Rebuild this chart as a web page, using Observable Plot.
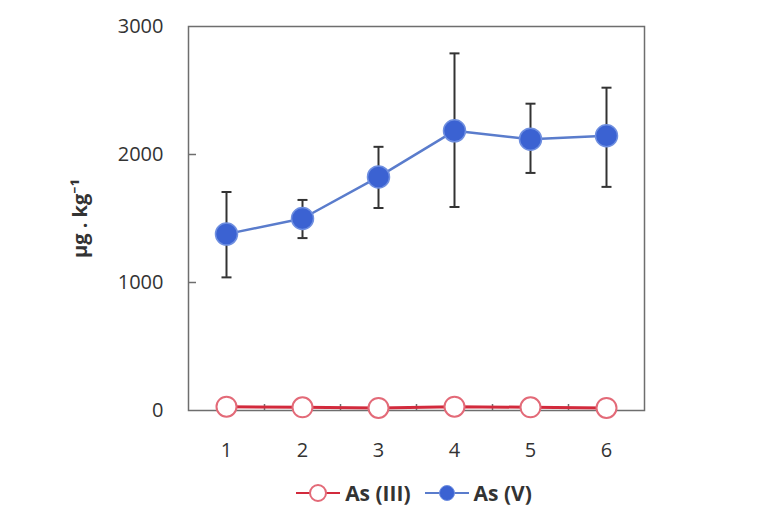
<!DOCTYPE html>
<html>
<head>
<meta charset="utf-8">
<script src="https://cdn.jsdelivr.net/npm/d3@7"></script>
<script src="https://cdn.jsdelivr.net/npm/@observablehq/plot@0.6"></script>
<style>
  body { margin: 0; background: #ffffff; font-family: "Open Sans", "Noto Sans", sans-serif; }
  #chart { width: 766px; }
  .legend { display: flex; justify-content: center; align-items: center; gap: 14px;
            padding-top: 9px; padding-left: 62px; font-weight: bold; font-size: 21px; color: #333; }
  .legend .item { display: flex; align-items: center; gap: 5px; }
</style>
</head>
<body>
<div id="chart"></div>
<script>
const samples = [1, 2, 3, 4, 5, 6];
const asV = [1378, 1500, 1825, 2185, 2120, 2146];
const asVLow = [1040, 1347, 1582, 1590, 1856, 1747];
const asVHigh = [1707, 1645, 2060, 2790, 2397, 2522];
const asIII = [30, 25, 20, 30, 25, 20];
const yTicks = [0, 1000, 2000, 3000];
const yInnerTicks = [1000, 2000];
const xInnerTicks = [1.5, 2.5, 3.5, 4.5, 5.5];
const yLabel = "μg . kg⁻¹";
const seriesNames = ["As (III)", "As (V)"];

const blueLine = "#5a7ccc";
const blueFill = "#3b62d2";
const redLine = "#d22a3c";
const redStroke = "#e36a78";

const vData = samples.map((s, i) => ({x: s, y: asV[i], lo: asVLow[i], hi: asVHigh[i]}));
const iiiData = samples.map((s, i) => ({x: s, y: asIII[i]}));

const capSymbol = {
  draw(ctx, size) {
    const r = Math.sqrt(size / Math.PI);
    ctx.moveTo(-r, 0);
    ctx.lineTo(r, 0);
  }
};

const font = "'Open Sans', 'Noto Sans', sans-serif";

const chart = Plot.plot({
  width: 766,
  height: 470,
  marginLeft: 188,
  marginRight: 122,
  marginTop: 26,
  marginBottom: 60,
  style: {fontFamily: font, background: "#ffffff", color: "#333"},
  x: {domain: [0.5, 6.5]},
  y: {domain: [0, 3000]},
  marks: [
    Plot.frame({stroke: "#6e6e6e", strokeWidth: 1.5}),
    Plot.axisY(yTicks, {tickSize: 0, tickPadding: 25, fontSize: 20, fill: "#333", tickFormat: d => String(d), label: null}),
    Plot.axisY(yInnerTicks, {tickSize: 8, dx: 8, tickFormat: () => "", stroke: "#6e6e6e", strokeWidth: 1.5, label: null}),
    Plot.axisX(samples, {tickSize: 0, tickPadding: 32, fontSize: 20, fill: "#333", label: null}),
    Plot.axisX(xInnerTicks, {tickSize: 6, dy: -6, tickFormat: () => "", stroke: "#6e6e6e", strokeWidth: 1.5, label: null}),
    Plot.text([yLabel], {frameAnchor: "left", dx: -108, rotate: -90, textAnchor: "middle", text: d => d, fontSize: 20, fontWeight: "bold", fill: "#333"}),
    Plot.ruleX(vData, {x: "x", y1: "lo", y2: "hi", stroke: "#333", strokeWidth: 2}),
    Plot.dot(vData, {x: "x", y: "lo", symbol: capSymbol, r: 5, stroke: "#333", strokeWidth: 2, fill: "none"}),
    Plot.dot(vData, {x: "x", y: "hi", symbol: capSymbol, r: 5, stroke: "#333", strokeWidth: 2, fill: "none"}),
    Plot.line(vData, {x: "x", y: "y", stroke: blueLine, strokeWidth: 2.5}),
    Plot.dot(vData, {x: "x", y: "y", r: 11, fill: blueFill, stroke: "#6f8fe0", strokeWidth: 1.5}),
    Plot.line(iiiData, {x: "x", y: "y", stroke: redLine, strokeWidth: 3}),
    Plot.dot(iiiData, {x: "x", y: "y", r: 10, fill: "#ffffff", stroke: redStroke, strokeWidth: 2})
  ]
});
document.getElementById("chart").appendChild(chart);

const legend = document.createElement("div");
legend.className = "legend";
const symbols = [
  `<svg width="44" height="22"><line x1="0" y1="11" x2="44" y2="11" stroke="${redLine}" stroke-width="2"/><circle cx="22" cy="11" r="8" fill="#fff" stroke="${redStroke}" stroke-width="2"/></svg>`,
  `<svg width="44" height="22"><line x1="0" y1="11" x2="44" y2="11" stroke="${blueLine}" stroke-width="2"/><circle cx="22" cy="11" r="7.5" fill="${blueFill}" stroke="#6f8fe0" stroke-width="1"/></svg>`
];
seriesNames.forEach((name, i) => {
  const item = document.createElement("div");
  item.className = "item";
  item.innerHTML = symbols[i] + `<span>${name}</span>`;
  legend.appendChild(item);
});
document.body.appendChild(legend);
</script>
</body>
</html>
